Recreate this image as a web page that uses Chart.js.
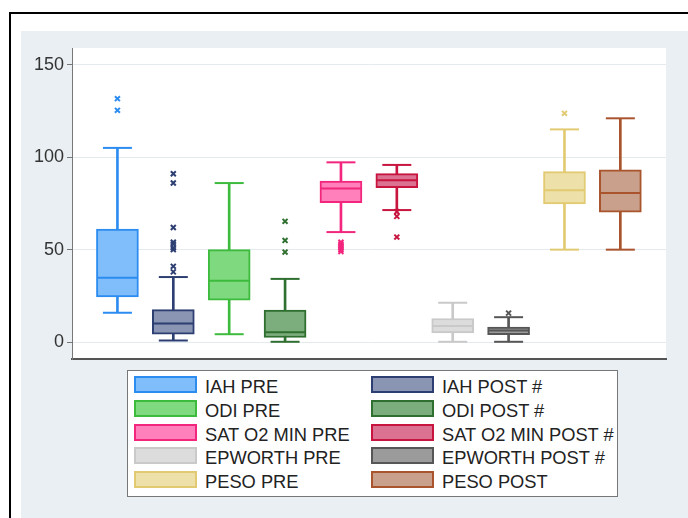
<!DOCTYPE html>
<html>
<head>
<meta charset="utf-8">
<script src="https://cdn.jsdelivr.net/npm/chart.js@4"></script>
<style>
  body { margin: 0; background: #fff; font-family: "Liberation Sans", Arial, sans-serif; }
  #frame { position: absolute; left: 9px; top: 12px; width: 700px; height: 520px; border-left: 2px solid #000; border-top: 2px solid #000; }
  #panel { position: absolute; left: 21px; top: 31px; right: 0; bottom: 0; background: #e9eff2; }
  #wrap { position: absolute; left: 0; top: 0; width: 688px; height: 518px; }
  #legend { position: absolute; left: 127px; top: 370px; width: 489px; height: 125px; background: #fff; border: 1.5px solid #777; }
  .item { position: absolute; font-size: 18.3px; color: #222; white-space: nowrap; }
  .swatch { position: absolute; width: 59px; height: 13px; border: 2px solid; }
  .label { position: absolute; top: 0px; }
</style>
</head>
<body>
<div id="frame"></div>
<div id="panel"></div>
<div id="wrap"><canvas id="boxChart"></canvas></div>
<div id="legend"></div>
<script>
const labels = ["IAH PRE", "IAH POST #", "ODI PRE", "ODI POST #", "SAT O2 MIN PRE",
  "SAT O2 MIN POST #", "EPWORTH PRE", "EPWORTH POST #", "PESO PRE", "PESO POST"];
const whiskerLow = [15.9, 0.9, 4.3, 0.2, 59.5, 71.4, 0.2, 0.2, 50, 50];
const q1 = [24.5, 4.3, 22.7, 2.5, 75.4, 83.5, 5.0, 4.1, 74.7, 70.3];
const medians = [34.8, 10.1, 33.2, 5.4, 83.1, 87.5, 8.8, 6.3, 82.1, 80.6];
const q3 = [61.1, 17.6, 50, 17.3, 87.1, 91.1, 12.8, 8.1, 92.2, 93.1];
const whiskerHigh = [105, 35.2, 86, 34.2, 97.2, 95.8, 21.3, 13.5, 115, 121];
const outliers = [
  [131.6, 125.3],
  [91, 86, 62, 54, 53, 51, 50, 41, 38],
  [],
  [65.3, 55, 48.7],
  [54, 53, 52, 51, 50, 49],
  [70.5, 68, 56.8],
  [],
  [15.7],
  [123.7],
  []
];
const yTicks = [0, 50, 100, 150];

const fills = ["#80bdfb", "#8995b2", "#7fd97f", "#7cad7c", "#ff80ba",
  "#db7291", "#dcdcdc", "#9b9b9b", "#eee0a9", "#c9a08b"];
const lines = ["#2c8cf0", "#2d3f72", "#3dbb3d", "#2f6f2f", "#f3267e",
  "#c8153f", "#c9c9c9", "#565656", "#e2ca72", "#a9542d"];

const pos = labels.map((_, i) => i + 1);

const plotBg = {
  id: "plotBg",
  beforeDraw(chart) {
    const { ctx, chartArea: a } = chart;
    ctx.save();
    ctx.fillStyle = "#fff";
    ctx.fillRect(a.left, a.top, a.right - a.left, a.bottom - a.top);
    ctx.restore();
  }
};

const outlierPts = [];
const outlierCols = [];
outliers.forEach((arr, i) => arr.forEach(v => {
  outlierPts.push({ x: pos[i], y: v });
  outlierCols.push(lines[i]);
}));

new Chart(document.getElementById("boxChart"), {
  type: "bar",
  data: {
    datasets: [
      {
        type: "scatter",
        data: medians.map((v, i) => ({ x: pos[i], y: v })),
        pointStyle: "line",
        radius: 20,
        borderWidth: 2,
        borderColor: lines,
        order: 0
      },
      {
        type: "scatter",
        data: outlierPts,
        pointStyle: "crossRot",
        radius: 3.5,
        borderWidth: 2,
        borderColor: outlierCols,
        order: 0
      },
      {
        data: q1.map((v, i) => ({ x: pos[i], y: [v, q3[i]] })),
        backgroundColor: fills,
        borderColor: lines,
        borderWidth: 2,
        borderSkipped: false,
        barThickness: 42,
        order: 1
      },
      {
        data: whiskerLow.map((v, i) => ({ x: pos[i], y: [v, whiskerHigh[i]] })),
        backgroundColor: lines,
        borderWidth: 0,
        barThickness: 2,
        order: 2
      },
      {
        type: "scatter",
        data: whiskerLow.map((v, i) => ({ x: pos[i], y: v })),
        pointStyle: "line",
        radius: 14.5,
        borderWidth: 2,
        borderColor: lines,
        order: 2
      },
      {
        type: "scatter",
        data: whiskerHigh.map((v, i) => ({ x: pos[i], y: v })),
        pointStyle: "line",
        radius: 14.5,
        borderWidth: 2,
        borderColor: lines,
        order: 2
      }
    ]
  },
  options: {
    responsive: true,
    maintainAspectRatio: false,
    animation: false,
    grouped: false,
    layout: { padding: { top: 48, right: 15, bottom: 159, left: 20 } },
    scales: {
      x: {
        type: "linear",
        offset: false,
        min: 0.187,
        max: 10.817,
        ticks: { display: false },
        grid: { display: false, offset: false },
        border: { display: true, color: "#555", width: 2 },
        afterFit: s => { s.height = 0; }
      },
      y: {
        min: -9.1,
        max: 159,
        afterBuildTicks: s => { s.ticks = yTicks.map(v => ({ value: v })); },
        ticks: {
          color: "#333",
          padding: 3,
          font: { family: "'Liberation Sans', Arial, sans-serif", size: 18 }
        },
        grid: { color: "#e4ebef", tickColor: "#777", tickLength: 5, lineWidth: 1 },
        border: { display: true, color: "#777", width: 1 },
        afterFit: s => { s.width = 52; }
      }
    },
    plugins: {
      legend: { display: false },
      tooltip: { enabled: false }
    }
  },
  plugins: [plotBg]
});

const legend = document.getElementById("legend");
labels.forEach((name, i) => {
  const col = i % 2, row = Math.floor(i / 2);
  const item = document.createElement("div");
  item.className = "item";
  item.style.left = (col ? 243 : 6) + "px";
  item.style.top = (5 + row * 23.8) + "px";
  const sw = document.createElement("div");
  sw.className = "swatch";
  sw.style.background = fills[i];
  sw.style.borderColor = lines[i];
  const tx = document.createElement("div");
  tx.className = "label";
  tx.style.left = "71px";
  tx.textContent = name;
  item.append(sw, tx);
  legend.appendChild(item);
});
</script>
</body>
</html>
